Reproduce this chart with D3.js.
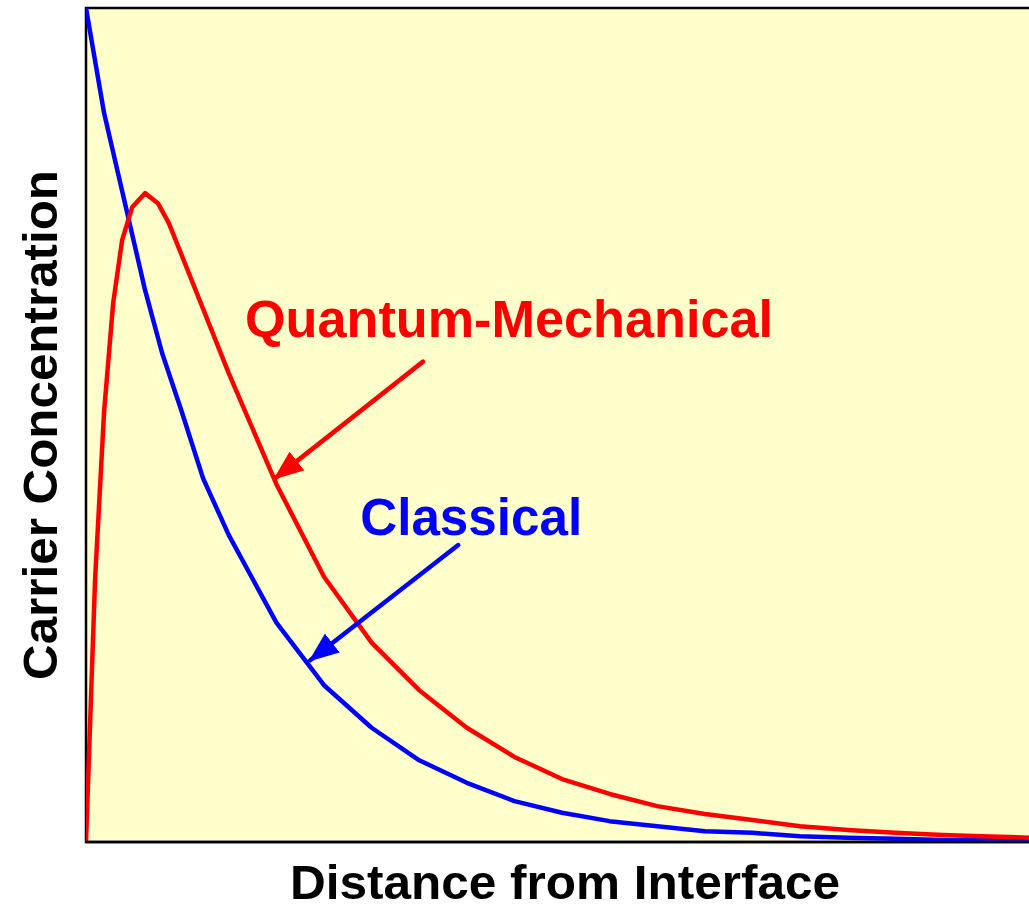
<!DOCTYPE html>
<html>
<head>
<meta charset="utf-8">
<script src="https://cdn.jsdelivr.net/npm/d3@7"></script>
<style>
  html, body { margin: 0; padding: 0; background: #fff; }
  #chart { width: 1029px; height: 905px; overflow: hidden; }
</style>
</head>
<body>
<div id="chart"></div>
<script>
(function () {
  'use strict';

  // distance (arbitrary units) and normalised concentration
  var classicalX = [0, 0.38, 1.24, 1.6, 2.0, 2.46, 3, 4, 5, 6, 7, 8, 9, 10, 11, 12, 13, 14, 15, 16, 17, 18, 19, 20];
  var classicalY = [1.0, 0.874, 0.662, 0.586, 0.518, 0.436, 0.368, 0.263, 0.188, 0.137, 0.098, 0.071, 0.049, 0.035, 0.025, 0.019, 0.013, 0.011, 0.007, 0.005, 0.004, 0.0025, 0.002, 0.001];

  var quantumX = [0, 0.19, 0.38, 0.57, 0.76, 0.97, 1.24, 1.51, 1.74, 2.0, 3, 4, 5, 6, 7, 8, 9, 10, 11, 12, 13, 14, 15, 16, 17, 18, 19, 20];
  var quantumY = [0, 0.314, 0.516, 0.646, 0.722, 0.761, 0.778, 0.766, 0.742, 0.705, 0.562, 0.429, 0.318, 0.239, 0.182, 0.137, 0.102, 0.0755, 0.0576, 0.043, 0.0336, 0.0264, 0.019, 0.0144, 0.011, 0.0084, 0.0066, 0.0048];

  // annotation labels and arrows: [x, y] in data units
  var labelNames = ['Quantum-Mechanical', 'Classical'];
  var labelPos = [[3.34, 0.606], [5.76, 0.368]];
  var labelWidths = [528, 222];
  var arrowFrom = [[7.08, 0.576], [7.82, 0.356]];
  var arrowTo = [[3.97, 0.436], [4.71, 0.218]];
  var seriesColors = ['#ff0000', '#0000ff'];

  var xTitle = 'Distance from Interface';
  var yTitle = 'Carrier Concentration';

  var width = 1029, height = 905;
  var margin = { top: 8, right: 0, bottom: 63, left: 86 };
  var iw = width - margin.left - margin.right;
  var ih = height - margin.top - margin.bottom;
  var font = 'Liberation Sans, Arial, sans-serif';

  var x = d3.scaleLinear().domain([0, 19.81]).range([0, iw]);
  var y = d3.scaleLinear().domain([0, 1]).range([ih, 0]);

  var svg = d3.select('#chart').append('svg').attr('width', width).attr('height', height);
  var defs = svg.append('defs');
  defs.append('clipPath').attr('id', 'plot-clip')
    .append('rect').attr('x', 0).attr('y', 0).attr('width', iw).attr('height', ih);

  seriesColors.forEach(function (c, i) {
    defs.append('marker').attr('id', 'arrow' + i)
      .attr('markerUnits', 'userSpaceOnUse')
      .attr('viewBox', '0 0 30 24').attr('refX', 28).attr('refY', 12)
      .attr('markerWidth', 30).attr('markerHeight', 24)
      .attr('orient', 'auto')
      .append('path').attr('d', 'M0,0 L30,12 L0,24 Z').attr('fill', c);
  });

  var g = svg.append('g').attr('transform', 'translate(' + margin.left + ',' + margin.top + ')');

  // plot background + frame
  g.append('rect').attr('x', 0).attr('y', 0).attr('width', iw + 4).attr('height', ih)
    .attr('fill', '#ffffcc').attr('stroke', '#000').attr('stroke-width', 2.5);

  var line = d3.line().x(function (d) { return x(d[0]); }).y(function (d) { return y(d[1]); });
  var curves = g.append('g').attr('clip-path', 'url(#plot-clip)');

  var quantum = quantumX.map(function (v, i) { return [v, quantumY[i]]; });
  var classical = classicalX.map(function (v, i) { return [v, classicalY[i]]; });

  curves.append('path').datum(classical).attr('d', line)
    .attr('fill', 'none').attr('stroke', seriesColors[1]).attr('stroke-width', 4.5)
    .attr('stroke-linejoin', 'round');
  curves.append('path').datum(quantum).attr('d', line)
    .attr('fill', 'none').attr('stroke', seriesColors[0]).attr('stroke-width', 4.5)
    .attr('stroke-linejoin', 'round');

  // re-draw the bottom frame over the curves
  g.append('line').attr('x1', 0).attr('x2', iw).attr('y1', ih).attr('y2', ih)
    .attr('stroke', '#000').attr('stroke-width', 2.5);

  // arrows
  arrowFrom.forEach(function (p, i) {
    g.append('line')
      .attr('x1', x(p[0])).attr('y1', y(p[1]))
      .attr('x2', x(arrowTo[i][0])).attr('y2', y(arrowTo[i][1]))
      .attr('stroke', seriesColors[i]).attr('stroke-width', 4.5).attr('stroke-linecap', 'round')
      .attr('marker-end', 'url(#arrow' + i + ')');
  });

  // labels
  g.selectAll('text.lbl').data(labelNames).enter().append('text')
    .attr('class', 'lbl')
    .attr('x', function (d, i) { return x(labelPos[i][0]); })
    .attr('y', function (d, i) { return y(labelPos[i][1]); })
    .attr('fill', function (d, i) { return seriesColors[i]; })
    .attr('font-family', font)
    .attr('font-weight', 'bold').attr('font-size', 51)
    .attr('textLength', function (d, i) { return labelWidths[i]; })
    .attr('lengthAdjust', 'spacingAndGlyphs')
    .text(function (d) { return d; });

  // axis titles
  svg.append('text').attr('x', 565).attr('y', 899)
    .attr('text-anchor', 'middle')
    .attr('font-family', font)
    .attr('font-weight', 'bold').attr('font-size', 48)
    .attr('textLength', 550).attr('lengthAdjust', 'spacingAndGlyphs')
    .text(xTitle);
  svg.append('text')
    .attr('transform', 'translate(57,425) rotate(-90)')
    .attr('text-anchor', 'middle')
    .attr('font-family', font)
    .attr('font-weight', 'bold').attr('font-size', 49)
    .attr('textLength', 510).attr('lengthAdjust', 'spacingAndGlyphs')
    .text(yTitle);
})();
</script>
</body>
</html>
